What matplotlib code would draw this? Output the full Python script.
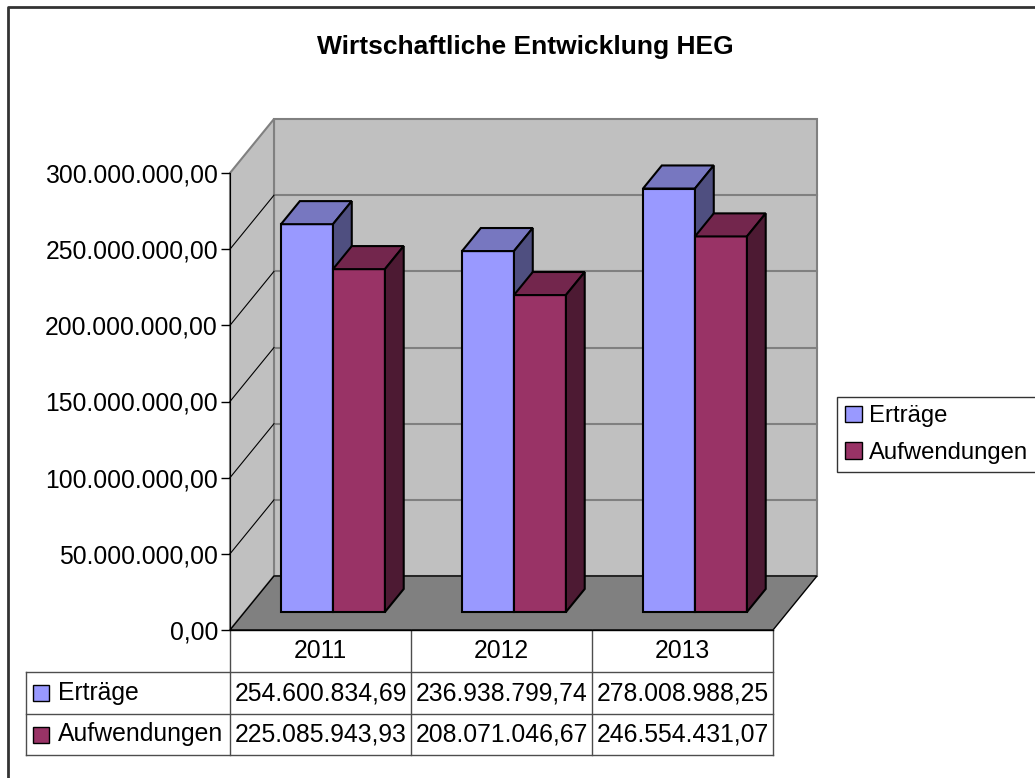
import matplotlib.pyplot as plt
from matplotlib.patches import Polygon, Patch
from matplotlib.lines import Line2D
from matplotlib.transforms import blended_transform_factory

plt.rcParams['font.family'] = ['Liberation Sans', 'DejaVu Sans']

# data
title = "Wirtschaftliche Entwicklung HEG"
years = ["2011", "2012", "2013"]
series = ["Erträge", "Aufwendungen"]
ertraege = [254600834.69, 236938799.74, 278008988.25]
aufwendungen = [225085943.93, 208071046.67, 246554431.07]
yticks = [0, 50e6, 100e6, 150e6, 200e6, 250e6, 300e6]

# front / top / side colours per series
farben = [("#9999ff", "#7777c0", "#4f4f80"),
          ("#993366", "#73264d", "#4d1a33")]


def de(v):
    s = f"{v:,.2f}"
    return s.replace(",", "#").replace(".", ",").replace("#", ".")


W, H = 1035, 778
FS = 17.8
fig = plt.figure(figsize=(W / 100, H / 100), dpi=100)

# front plane of the 3d box, in pixels
L, R, B, T = 230, 773, 630, 173
ax = fig.add_axes([L / W, 1 - B / H, (R - L) / W, (B - T) / H])
ymax = yticks[-1]
ax.set_xlim(-0.5, len(years) - 0.5)
ax.set_ylim(0, ymax)

# depth offset (44px right, 54px up) in data units
DX = 44 / ((R - L) / len(years))
DY = 54 / ((B - T) / ymax)


def p(x, v, d):
    return (x + d * DX, v + d * DY)


def face(pts, fc, ec, lw=1, z=1):
    ax.add_patch(Polygon([p(*q) for q in pts], closed=True, facecolor=fc,
                         edgecolor=ec, linewidth=lw, zorder=z, clip_on=False))


x0, x1 = -0.5, len(years) - 0.5
# walls and floor
face([(x0, 0, 1), (x1, 0, 1), (x1, ymax, 1), (x0, ymax, 1)], "#c0c0c0", "#808080", 1.5, 0)
face([(x0, 0, 0), (x0, 0, 1), (x0, ymax, 1), (x0, ymax, 0)], "#c0c0c0", "#808080", 1.5, 0)
face([(x0, 0, 0), (x1, 0, 0), (x1, 0, 1), (x0, 0, 1)], "#808080", "#000000", 1, 0.5)

for v in yticks[1:-1]:
    a, b = p(x0, v, 1), p(x1, v, 1)
    ax.plot([a[0], b[0]], [a[1], b[1]], color="#808080", lw=1.5, zorder=0.6, clip_on=False)
    a, b = p(x0, v, 0), p(x0, v, 1)
    ax.plot([a[0], b[0]], [a[1], b[1]], color="#000000", lw=0.8, zorder=0.6, clip_on=False)

# bars
BW = 0.287
d0, d1 = 0.333, 0.76
for i in range(len(years)):
    for s, werte in enumerate([ertraege, aufwendungen]):
        v = werte[i]
        xl = i - BW + s * BW - 0.012
        xr = xl + BW
        front, top, side = farben[s]
        z = 3 + s
        ax.bar(xl + d0 * DX, v, BW, bottom=d0 * DY, align="edge", color=front,
               edgecolor="black", linewidth=1.5, zorder=z, clip_on=False)
        face([(xl, v, d0), (xr, v, d0), (xr, v, d1), (xl, v, d1)], top, "black", 1.5, z)
        face([(xr, 0, d0), (xr, v, d0), (xr, v, d1), (xr, 0, d1)], side, "black", 1.5, z)

# axis
for sp in ["top", "right", "bottom"]:
    ax.spines[sp].set_visible(False)
ax.spines["left"].set_color("black")
ax.spines["left"].set_zorder(2)
ax.set_yticks(yticks, [de(v) for v in yticks])
ax.set_xticks([])
ax.tick_params(axis="y", length=6.5, width=1, pad=2.2, labelsize=FS, direction="out")
ax.patch.set_visible(False)

# data table below the plot
tr = blended_transform_factory(ax.transData, ax.transAxes)
ah = B - T
rows = [0, -42 / ah, -84 / ah, -125 / ah]
xlab = x0 - (L - 26) / ((R - L) / len(years))
lc = "#4d4d4d"
for xv in [x0 + k for k in range(len(years) + 1)]:
    ax.plot([xv, xv], [rows[0], rows[3]], color=lc, lw=1, transform=tr, clip_on=False)
ax.plot([xlab, xlab], [rows[1], rows[3]], color=lc, lw=1, transform=tr, clip_on=False)
for yv in rows[1:]:
    ax.plot([xlab, x1], [yv, yv], color=lc, lw=1, transform=tr, clip_on=False)
ax.plot([x0, x1], [0, 0], color="black", lw=1, transform=tr, clip_on=False)

for i, y in enumerate(years):
    ym = (rows[0] + rows[1]) / 2
    ax.text(i, ym, y, ha="center", va="center", fontsize=FS, transform=tr)
    for s, werte in enumerate([ertraege, aufwendungen]):
        ym = (rows[s + 1] + rows[s + 2]) / 2
        ax.text(i, ym, de(werte[i]), ha="center", va="center", fontsize=FS, transform=tr)

px = (R - L) / len(years)
for s, name in enumerate(series):
    ym = (rows[s + 1] + rows[s + 2]) / 2
    ax.plot([x0 - (L - 41) / px], [ym], marker="s", ms=11.5, mfc=farben[s][0],
            mec="black", mew=1, transform=tr, clip_on=False)
    ax.text(x0 - (L - 58) / px, ym, name, ha="left", va="center", fontsize=FS, transform=tr)

# legend
handles = [Patch(facecolor=farben[s][0], edgecolor="black", label=series[s]) for s in range(2)]
leg = fig.legend(handles=handles, loc="upper left", bbox_to_anchor=(837 / W, 1 - 397 / H),
                 fontsize=17.2, frameon=True, fancybox=False, borderaxespad=0,
                 handlelength=0.7, handleheight=0.7, handletextpad=0.3,
                 labelspacing=0.6, borderpad=0.35)
leg.get_frame().set_edgecolor("black")
leg.get_frame().set_linewidth(1)

# title and outer frame (only left and top edges are inside the picture)
fig.text(525 / W, 1 - 47 / H, title, ha="center", va="center", fontsize=19, fontweight="bold")
fx, fy = 8 / W, 1 - 7 / H
fig.lines.append(Line2D([fx, fx, 1.05], [-0.05, fy, fy], transform=fig.transFigure,
                        color="#333333", linewidth=2))

fig.savefig("out.png", dpi=100)
